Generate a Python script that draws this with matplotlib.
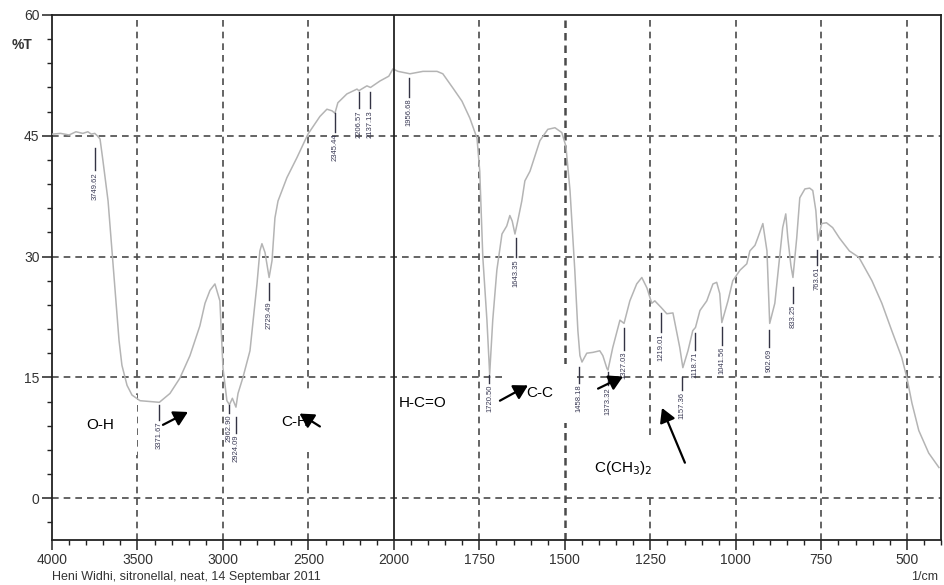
import numpy as np
import matplotlib
matplotlib.use("Agg")
import matplotlib.pyplot as plt
from matplotlib.ticker import FixedLocator, FixedFormatter, NullFormatter

plt.rcParams['font.family'] = ['Liberation Sans', 'DejaVu Sans']

# ---------------- data ----------------
wavenumber = [4000, 3950, 3900, 3860, 3820, 3790, 3770, 3750, 3735, 3719, 3702, 3672, 3649,
              3626, 3608, 3591, 3561, 3532, 3485, 3427, 3372, 3310, 3252, 3193, 3135, 3105,
              3076, 3047, 3018, 3000, 2977, 2962, 2945, 2924, 2912, 2883, 2842, 2801, 2784,
              2772, 2754, 2730, 2713, 2696, 2678, 2626, 2567, 2503, 2433, 2392, 2362, 2345,
              2328, 2275, 2216, 2205, 2158, 2137, 2082, 2030, 2006, 1988, 1953, 1915, 1874,
              1857, 1827, 1801, 1778, 1757, 1749, 1740, 1728, 1720, 1711, 1699, 1684, 1670,
              1661, 1654, 1646, 1638, 1626, 1617, 1602, 1573, 1550, 1529, 1509, 1497, 1485,
              1471, 1462, 1456, 1450, 1436, 1418, 1398, 1389, 1377, 1374, 1360, 1339, 1327,
              1310, 1290, 1275, 1260, 1246, 1237, 1219, 1202, 1184, 1164, 1155, 1140, 1126,
              1118, 1105, 1085, 1067, 1056, 1047, 1041, 1023, 1009, 988, 968, 959, 944, 936,
              921, 909, 901, 886, 871, 863, 854, 848, 839, 833, 822, 813, 798, 784, 775, 766,
              760, 749, 735, 717, 697, 668, 640, 602, 573, 544, 515, 500, 485, 465, 436, 406]
transmittance = [45.2, 45.3, 45.1, 45.5, 45.3, 45.5, 45.2, 45.3, 45.0, 44.6, 41.9, 36.9, 30.7,
                 24.5, 19.6, 16.5, 14.0, 12.8, 12.1, 12.0, 11.9, 13.0, 14.9, 17.7, 21.4, 24.2,
                 25.8, 26.6, 24.5, 16.2, 12.1, 11.6, 12.4, 11.3, 13.0, 15.0, 18.3, 26.6, 30.7,
                 31.6, 30.5, 27.4, 29.5, 34.8, 36.9, 39.8, 42.3, 45.2, 47.4, 48.3, 48.1, 47.8,
                 49.1, 50.2, 50.8, 50.6, 51.2, 51.0, 51.8, 52.4, 53.3, 53.0, 52.7, 53.0, 53.0,
                 52.7, 50.9, 49.3, 47.2, 44.7, 40.6, 29.9, 22.1, 15.4, 22.1, 28.3, 32.8, 33.8,
                 35.1, 34.4, 32.8, 34.4, 36.9, 39.4, 40.6, 44.4, 45.8, 46.0, 45.4, 43.7, 38.2,
                 28.3, 20.8, 17.7, 16.9, 18.0, 18.1, 18.3, 17.7, 16.1, 15.9, 18.7, 22.1, 21.7,
                 24.5, 26.6, 27.4, 26.1, 24.2, 24.5, 23.7, 22.9, 23.0, 18.7, 16.2, 18.3, 20.8,
                 21.2, 23.3, 24.5, 26.6, 26.8, 25.4, 21.8, 24.5, 27.0, 28.3, 29.1, 30.7, 31.4,
                 32.3, 34.1, 30.7, 21.7, 24.2, 30.4, 33.6, 35.3, 32.3, 28.9, 27.4, 32.3, 37.3,
                 38.4, 38.5, 38.2, 35.7, 32.0, 34.1, 34.2, 33.6, 32.3, 30.7, 29.9, 27.0, 24.2,
                 20.8, 17.5, 15.0, 11.8, 8.4, 5.6, 3.8]

peak_wn = [3749.62, 3371.67, 2962.90, 2924.09, 2729.49, 2345.44, 2206.57, 2137.13, 1956.68,
           1720.50, 1643.35, 1458.18, 1373.32, 1327.03, 1219.01, 1157.36, 1118.71, 1041.56,
           902.69, 833.25, 763.61]
peak_labels = [f"{v:.2f}" for v in peak_wn]

x_major = [4000, 3500, 3000, 2500, 2000, 1750, 1500, 1250, 1000, 750, 500]
x_major_labels = [str(v) for v in x_major]
y_major = [0, 15, 30, 45, 60]
y_major_labels = [str(v) for v in y_major]

group_names = ["O-H", "C-H", "H-C=O", "C-C", r"C(CH$_3$)$_2$"]

# ---------------- layout (style / positions) ----------------
# peak label tick extents (top, bottom) in %T
peak_line = [(43.5, 40.7), (11.6, 9.7), (11.6, 10.6), (10.1, 8.1), (26.7, 24.6), (47.8, 45.5),
             (50.4, 48.4), (50.4, 48.4), (52.2, 49.8), (15.3, 14.3), (32.3, 29.9), (16.3, 14.3),
             (15.7, 14.0), (21.1, 18.4), (23.0, 20.6), (15.0, 13.4), (20.5, 18.4), (21.2, 19.0),
             (20.9, 18.8), (26.2, 24.2), (30.8, 28.9)]
group_pos = [(3719, 9.05), (2579, 9.4), (1915, 11.8), (1573, 13.0), (1330, 3.8)]
group_pad = [1.5, 1.5, 0.3, 1.5, 1.3]
arrows = [((3351, 9.1), (3205, 10.7)),
          ((2433, 8.9), (2552, 10.5)),
          ((1690, 12.1), (1608, 14.0)),
          ((1403, 13.6), (1330, 15.1)),
          ((1149, 4.4), (1216, 11.2))]


def fwd(x):
    x = np.asarray(x, dtype=float)
    return np.where(x > 2000, 2000 + (x - 2000) / 2.0, x)


def inv(u):
    u = np.asarray(u, dtype=float)
    return np.where(u > 2000, 2000 + 2.0 * (u - 2000), u)


fig = plt.figure(figsize=(9.44, 5.85), dpi=100)
ax = fig.add_axes([52 / 944, 1 - 540 / 585, (941 - 52) / 944, (540 - 15) / 585])
ax.set_xscale('function', functions=(fwd, inv))
ax.set_xlim(4000, 400)
ax.set_ylim(-5.2, 60)

# grid
gcol = '#4a4a4a'
for v in x_major:
    if v == 2000:
        ax.axvline(v, color='#222222', lw=1.3, zorder=4)
    elif v == 1500:
        ax.axvline(v, color=gcol, lw=1.8, ls=(0, (3, 2)), zorder=1)
    elif v != 4000:
        ax.axvline(v, color=gcol, lw=1.2, ls=(0, (4, 3)), zorder=1)
for v in y_major[:-1]:
    ax.axhline(v, color=gcol, lw=1.2, ls=(0, (4, 3)), zorder=1)

# spectrum
ax.plot(wavenumber, transmittance, color='#b4b4b4', lw=1.1, zorder=3)

# peak labels
for wn, lab, (top, bot) in zip(peak_wn, peak_labels, peak_line):
    ax.plot([wn, wn], [top, bot], color='#333344', lw=1.0, zorder=5)
    ax.text(wn, bot - 0.2, lab, rotation=90, ha='center', va='top', fontsize=5.5,
            color='#3a3a55', zorder=5)

# functional group labels with white boxes
for name, (gx, gy), pad in zip(group_names, group_pos, group_pad):
    ax.text(gx, gy, name, ha='center', va='center', fontsize=11, color='black',
            zorder=2.5, bbox=dict(boxstyle=f'square,pad={pad}', fc='white', ec='none'))

for (tail, head) in arrows:
    ax.annotate('', xy=head, xytext=tail,
                arrowprops=dict(arrowstyle='-|>,head_length=0.7,head_width=0.4',
                                mutation_scale=12, color='black', lw=1.6,
                                shrinkA=0, shrinkB=0), zorder=6)

# ticks
ax.xaxis.set_major_locator(FixedLocator(x_major))
ax.xaxis.set_major_formatter(FixedFormatter(x_major_labels))
minor_x = list(range(4000, 2000, -100)) + list(range(2000, 399, -50))
ax.xaxis.set_minor_locator(FixedLocator(minor_x))
ax.xaxis.set_minor_formatter(NullFormatter())
ax.yaxis.set_major_locator(FixedLocator(y_major))
ax.yaxis.set_major_formatter(FixedFormatter(y_major_labels))
ax.yaxis.set_minor_locator(FixedLocator(list(range(-3, 61, 3))))
ax.tick_params(axis='both', which='major', direction='out', length=7, width=1.1,
               labelsize=10, colors='#222222', labelcolor='#333333')
ax.tick_params(axis='both', which='minor', direction='out', length=3.5, width=1.0,
               colors='#222222')
ax.tick_params(axis='x', pad=2)
ax.tick_params(axis='y', pad=2)
for s in ax.spines.values():
    s.set_color('#222222')
    s.set_linewidth(1.3)

fig.text(22 / 944, 1 - 45 / 585, '%T', fontsize=10, ha='center', va='center',
         color='#333333', fontweight='bold')
fig.text(925 / 944, 1 - 577 / 585, '1/cm', fontsize=9, ha='center', va='center',
         color='#333333')
fig.text(52 / 944, 1 - 577 / 585, 'Heni Widhi, sitronellal, neat, 14 Septembar 2011',
         fontsize=9, ha='left', va='center', color='#333333')

fig.savefig('out.png', dpi=100)
